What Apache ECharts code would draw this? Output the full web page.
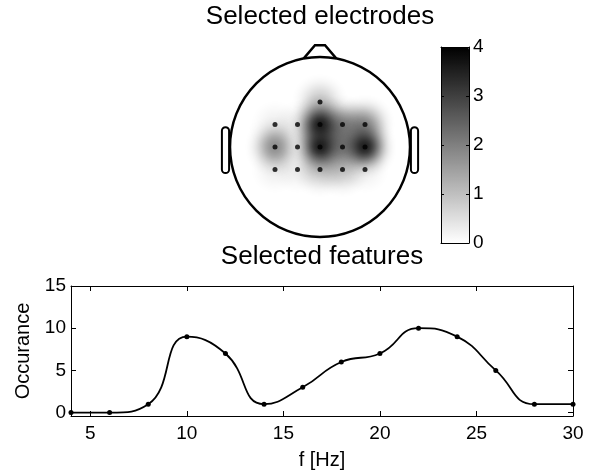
<!DOCTYPE html>
<html>
<head>
<meta charset="utf-8">
<script src="https://cdn.jsdelivr.net/npm/echarts@6/dist/echarts.min.js"></script>
<style>
html, body { margin: 0; padding: 0; background: #fff; }
#charts { width: 602px; height: 473px; }
</style>
</head>
<body>
<div id="charts"></div>
<script>
// selected features (line chart)
const freqHz = [4, 6, 8, 10, 12, 14, 16, 18, 20, 22, 24, 26, 28, 30];
const occurance = [0, 0, 1, 9, 7, 1, 3, 6, 7, 10, 9, 5, 1, 1];
const freqTicks = [5, 10, 15, 20, 25, 30];
const occTicks = [0, 5, 10, 15];

// selected electrodes, head radius = 1, nose up
const elecX = [0, -0.5, -0.25, 0, 0.25, 0.5, -0.5, -0.25, 0, 0.25, 0.5, -0.5, -0.25, 0, 0.25, 0.5];
const elecY = [0.5, 0.25, 0.25, 0.25, 0.25, 0.25, 0, 0, 0, 0, 0, -0.25, -0.25, -0.25, -0.25, -0.25];
const elecCount = [1, 0.3, 0.3, 4, 2, 2, 2, 0, 4, 2, 4, 0.3, 0.3, 1, 1, 0.3];
const barTicks = [0, 1, 2, 3, 4];

const FONT = 'Liberation Sans, Arial, Helvetica, sans-serif';

echarts.registerMap('head', {
  type: 'FeatureCollection',
  features: [{
    type: 'Feature',
    properties: { name: 'head' },
    geometry: { type: 'Polygon', coordinates: [[[-1, -1], [1, -1], [1, 1], [-1, 1], [-1, -1]]] }
  }]
});

function boxAxis(extra) {
  return Object.assign({
    type: 'value',
    axisLine: { show: true, onZero: false, lineStyle: { color: '#000', width: 1 } },
    axisTick: { show: false },
    axisLabel: { show: false },
    splitLine: { show: false }
  }, extra);
}
const tickStyle = { color: '#000', width: 1 };

let myChart = echarts.init(document.getElementById('charts'));
myChart.setOption({
  animation: false,
  textStyle: { fontFamily: FONT },
  grid: [
    { left: 71, right: 29, top: 286, height: 130 },
    { left: 441, top: 47, width: 28, height: 196 }
  ],
  xAxis: [
    boxAxis({
      gridIndex: 0, position: 'bottom', min: 4, max: 30,
      axisTick: { show: true, inside: true, length: 5, customValues: freqTicks, lineStyle: tickStyle },
      axisLabel: { show: true, customValues: freqTicks, color: '#000', fontSize: 19, margin: 8 },
      name: 'f [Hz]', nameLocation: 'middle', nameGap: 34,
      nameTextStyle: { color: '#000', fontSize: 20 }
    }),
    boxAxis({
      gridIndex: 0, position: 'top', min: 4, max: 30,
      axisTick: { show: true, inside: true, length: 5, customValues: freqTicks, lineStyle: tickStyle }
    }),
    boxAxis({ gridIndex: 1, position: 'bottom', min: 0, max: 1, z: 6 }),
    boxAxis({ gridIndex: 1, position: 'top', min: 0, max: 1, z: 6 })
  ],
  yAxis: [
    boxAxis({
      gridIndex: 0, position: 'left', min: -0.4, max: 15,
      axisTick: { show: true, inside: true, length: 5, customValues: occTicks, lineStyle: tickStyle },
      axisLabel: { show: true, customValues: occTicks, color: '#000', fontSize: 19, margin: 5 },
      name: 'Occurance', nameLocation: 'middle', nameGap: 37,
      nameTextStyle: { color: '#000', fontSize: 20 }
    }),
    boxAxis({
      gridIndex: 0, position: 'right', min: -0.4, max: 15,
      axisTick: { show: true, inside: true, length: 5, customValues: occTicks, lineStyle: tickStyle }
    }),
    boxAxis({
      gridIndex: 1, position: 'left', min: 0, max: 4, z: 6,
      axisTick: { show: true, inside: true, length: 3, customValues: barTicks, lineStyle: tickStyle }
    }),
    boxAxis({
      gridIndex: 1, position: 'right', min: 0, max: 4, z: 6,
      axisTick: { show: true, inside: true, length: 3, customValues: barTicks, lineStyle: tickStyle },
      axisLabel: { show: true, customValues: barTicks, color: '#000', fontSize: 19, margin: 4 }
    })
  ],
  geo: {
    map: 'head',
    layoutCenter: [320, 147],
    layoutSize: 180,
    aspectScale: 1,
    roam: false,
    silent: true,
    label: { show: false },
    itemStyle: { areaColor: 'transparent', borderColor: 'transparent', borderWidth: 0 },
    emphasis: { disabled: true }
  },
  visualMap: {
    type: 'continuous',
    seriesIndex: 1,
    min: 0,
    max: 4,
    calculable: false,
    hoverLink: false,
    orient: 'vertical',
    left: 441,
    top: 47,
    padding: 0,
    itemWidth: 28,
    itemHeight: 196,
    inRange: { color: ['#ffffff', '#000000'] }
  },
  series: [
    {
      type: 'line',
      xAxisIndex: 0,
      yAxisIndex: 0,
      data: freqHz.map((f, i) => [f, occurance[i]]),
      smooth: 0.5,
      symbol: 'circle',
      symbolSize: 5,
      lineStyle: { color: '#000', width: 1.8 },
      itemStyle: { color: '#000' }
    },
    {
      type: 'heatmap',
      coordinateSystem: 'geo',
      geoIndex: 0,
      data: elecX.map((x, i) => [x, elecY[i], elecCount[i]]),
      pointSize: 15,
      blurSize: 16,
      minOpacity: 1,
      maxOpacity: 1,
      silent: true
    },
    {
      type: 'scatter',
      coordinateSystem: 'geo',
      geoIndex: 0,
      data: elecX.map((x, i) => [x, elecY[i]]),
      symbolSize: 5,
      itemStyle: { color: '#000' },
      silent: true,
      z: 5
    }
  ]
});

// head outline, nose, ears and titles
const c = myChart.convertToPixel({ geoIndex: 0 }, [0, 0]);
const R = myChart.convertToPixel({ geoIndex: 0 }, [1, 0])[0] - c[0];
const line = { fill: 'none', stroke: '#000', lineWidth: 2.5 };
myChart.setOption({
  graphic: [
    { type: 'circle', z: 10, shape: { cx: c[0], cy: c[1], r: R }, style: line },
    { type: 'polyline', z: 10, shape: { points: [
      [c[0] - 0.18 * R, c[1] - 0.985 * R], [c[0] - 0.056 * R, c[1] - 1.13 * R],
      [c[0] + 0.056 * R, c[1] - 1.13 * R], [c[0] + 0.18 * R, c[1] - 0.985 * R]] }, style: line },
    { type: 'rect', z: 10, shape: { x: c[0] - 1.09 * R, y: c[1] - 0.22 * R, width: 0.08 * R, height: 0.51 * R, r: 4 }, style: Object.assign({}, line, { lineWidth: 2 }) },
    { type: 'rect', z: 10, shape: { x: c[0] + 1.01 * R, y: c[1] - 0.22 * R, width: 0.08 * R, height: 0.51 * R, r: 4 }, style: Object.assign({}, line, { lineWidth: 2 }) },
    { type: 'text', z: 10, x: c[0], y: 17, style: { text: 'Selected electrodes', fontSize: 26, fontFamily: FONT, fill: '#000', align: 'center', verticalAlign: 'middle' } },
    { type: 'text', z: 10, x: c[0] + 2, y: 257, style: { text: 'Selected features', fontSize: 26, fontFamily: FONT, fill: '#000', align: 'center', verticalAlign: 'middle' } }
  ]
});
</script>
</body>
</html>
